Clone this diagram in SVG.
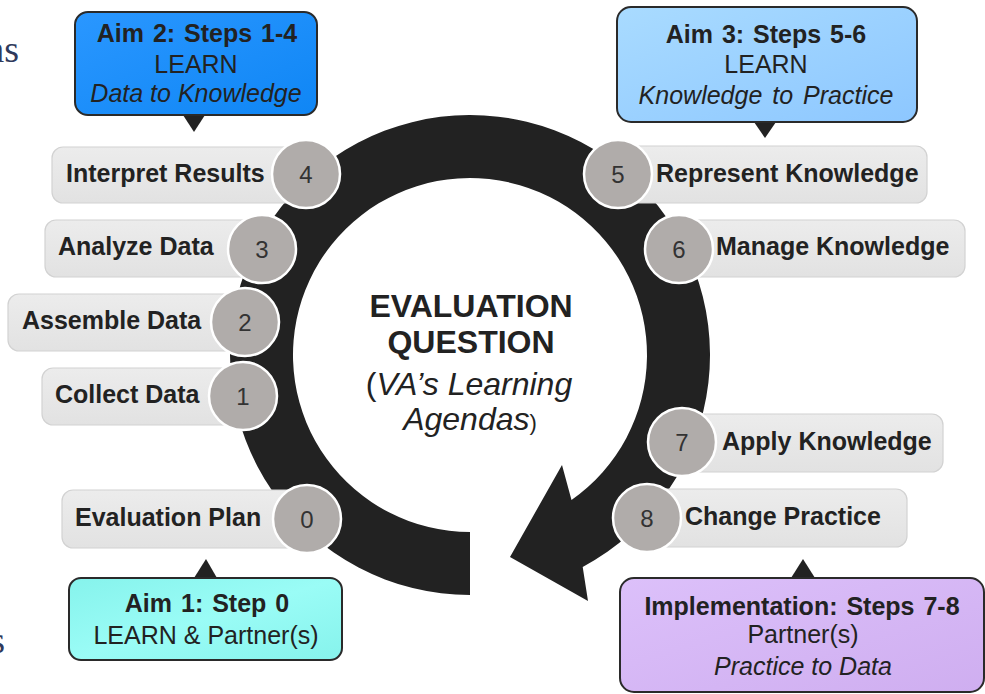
<svg xmlns="http://www.w3.org/2000/svg" width="985" height="694" viewBox="0 0 985 694">
<defs>
<linearGradient id="gBlue" x1="0" y1="0" x2="1" y2="1"><stop offset="0" stop-color="#2a97ff"/><stop offset="1" stop-color="#0f86f5"/></linearGradient>
<linearGradient id="gLight" x1="0" y1="0" x2="1" y2="1"><stop offset="0" stop-color="#a9dbff"/><stop offset="1" stop-color="#8dc7ff"/></linearGradient>
<linearGradient id="gCyan" x1="0" y1="0" x2="1" y2="1"><stop offset="0" stop-color="#86f3ec"/><stop offset="0.5" stop-color="#9afcf6"/><stop offset="1" stop-color="#86f3ec"/></linearGradient>
<linearGradient id="gPurple" x1="0" y1="0" x2="1" y2="1"><stop offset="0" stop-color="#dcc0fa"/><stop offset="1" stop-color="#cfaef0"/></linearGradient>
<linearGradient id="gPill" x1="0" y1="0" x2="0" y2="1"><stop offset="0" stop-color="#ececec"/><stop offset="1" stop-color="#e2e2e2"/></linearGradient>
</defs>
<style>
.pill{fill:url(#gPill);stroke:#d2d2d2;stroke-width:1.2}
.lbl{font-family:"Liberation Sans",Arial,sans-serif;font-weight:bold;font-size:25px;fill:#222}
.num{font-family:"Liberation Sans",Arial,sans-serif;font-size:24px;fill:#333;text-anchor:middle}
.circ{fill:#b0acaa;stroke:#ffffff;stroke-width:2.5}
.box{stroke:#2a2a2a;stroke-width:2}
.ct{font-family:"Liberation Sans",Arial,sans-serif;font-size:25px;fill:#222;text-anchor:middle}
.b{font-weight:bold;word-spacing:2px}
.i{font-style:italic}
.big{font-size:32px}
.ptr{fill:#222}
.frag{font-family:"Liberation Serif","Times New Roman",serif;font-size:38px;fill:#2f3a5c;text-anchor:end}
</style>
<rect width="985" height="694" fill="#ffffff"/>
<text class="frag" x="19" y="62">ns</text>
<text class="frag" x="5" y="653">s</text>

<g id="connectors">
<path id="cycle-arrow" fill="#222" d="M470 532 L470 595 A240 240 0 1 1 582.7 566.9 L588 601 L510 557 L562 465 L571.5 500 A177 177 0 1 0 470 532 Z"/>
</g>

<g id="center">
<text class="ct b big" x="471" y="317">EVALUATION</text>
<text class="ct b big" x="471" y="353">QUESTION</text>
<text class="ct big" x="469" y="395">(<tspan class="i">VA’s Learning</tspan></text>
<text class="ct big" x="470" y="430"><tspan class="i">Agendas</tspan><tspan style="font-size:22px">)</tspan></text>
</g>

<g id="step4"><rect class="pill" x="52" y="147" width="260" height="56" rx="11"/><text class="lbl" x="66" y="182">Interpret Results</text><circle class="circ" cx="306" cy="174" r="34"/><text class="num" x="306" y="183">4</text></g>
<g id="step3"><rect class="pill" x="45" y="220" width="220" height="57" rx="11"/><text class="lbl" x="58" y="255">Analyze Data</text><circle class="circ" cx="262" cy="249" r="34"/><text class="num" x="262" y="258">3</text></g>
<g id="step2"><rect class="pill" x="8" y="294" width="240" height="57" rx="11"/><text class="lbl" x="22" y="329">Assemble Data</text><circle class="circ" cx="245" cy="322" r="34"/><text class="num" x="245" y="331">2</text></g>
<g id="step1"><rect class="pill" x="42" y="368" width="200" height="57" rx="11"/><text class="lbl" x="55" y="403">Collect Data</text><circle class="circ" cx="243" cy="396" r="34"/><text class="num" x="243" y="405">1</text></g>
<g id="step0"><rect class="pill" x="62" y="490" width="245" height="58" rx="11"/><text class="lbl" x="75" y="526">Evaluation Plan</text><circle class="circ" cx="307" cy="519" r="34"/><text class="num" x="307" y="528">0</text></g>

<g id="step5"><rect class="pill" x="618" y="146" width="309" height="57" rx="11"/><circle class="circ" cx="618" cy="174" r="34"/><text class="num" x="618" y="183">5</text><text class="lbl" x="656" y="182">Represent Knowledge</text></g>
<g id="step6"><rect class="pill" x="679" y="220" width="286" height="57" rx="11"/><circle class="circ" cx="679" cy="249" r="34"/><text class="num" x="679" y="258">6</text><text class="lbl" x="716" y="255">Manage Knowledge</text></g>
<g id="step7"><rect class="pill" x="682" y="414" width="261" height="58" rx="11"/><circle class="circ" cx="682" cy="442" r="34"/><text class="num" x="682" y="451">7</text><text class="lbl" x="722" y="450">Apply Knowledge</text></g>
<g id="step8"><rect class="pill" x="647" y="489" width="260" height="58" rx="11"/><circle class="circ" cx="647" cy="518" r="34"/><text class="num" x="647" y="527">8</text><text class="lbl" x="685" y="525">Change Practice</text></g>

<g id="aim2"><path class="ptr" d="M183 115 L205 115 L194 132 Z"/><rect class="box" x="75" y="12" width="242" height="103" rx="13" fill="url(#gBlue)"/>
<text class="ct b" x="197" y="42">Aim 2: Steps 1-4</text><text class="ct" x="196" y="73">LEARN</text><text class="ct i" x="196" y="102">Data to Knowledge</text></g>

<g id="aim3"><path class="ptr" d="M754 122 L776 122 L765 138 Z"/><rect class="box" x="617" y="7" width="300" height="115" rx="14" fill="url(#gLight)"/>
<text class="ct b" x="766" y="43">Aim 3: Steps 5-6</text><text class="ct" x="766" y="73">LEARN</text><text class="ct i" x="766" y="104" style="word-spacing:3px">Knowledge to Practice</text></g>

<g id="aim1"><path class="ptr" d="M194 578 L217 578 L206 559 Z"/><rect class="box" x="69" y="578" width="273" height="82" rx="12" fill="url(#gCyan)"/>
<text class="ct b" x="207" y="612">Aim 1: Step 0</text><text class="ct" x="206" y="644">LEARN &amp; Partner(s)</text></g>

<g id="implementation"><path class="ptr" d="M791 578 L815 578 L803 559 Z"/><rect class="box" x="620" y="578" width="364" height="114" rx="14" fill="url(#gPurple)"/>
<text class="ct b" x="802" y="615">Implementation:  Steps 7-8</text><text class="ct" x="803" y="643">Partner(s)</text><text class="ct i" x="803" y="675">Practice to Data</text></g>
</svg>
